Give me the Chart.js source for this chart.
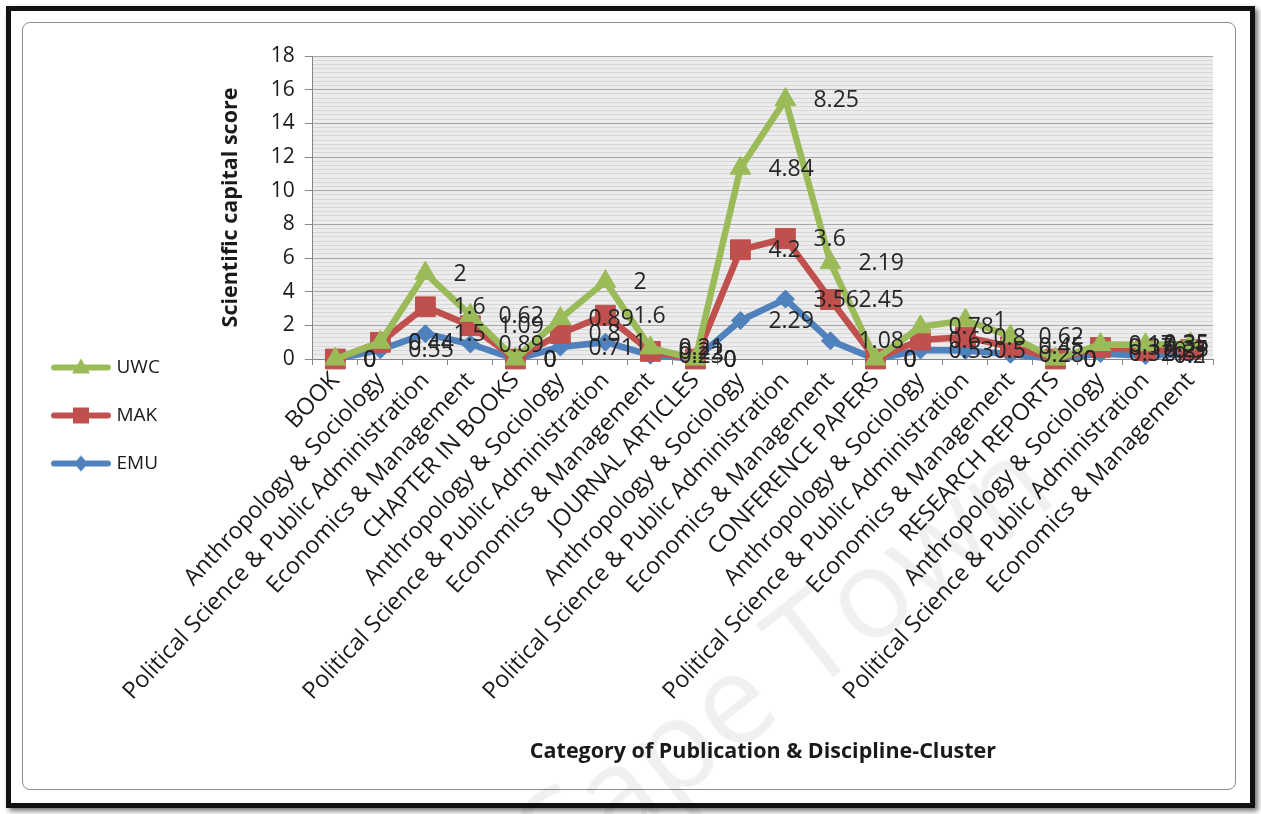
<!DOCTYPE html>
<html>
<head>
<meta charset="utf-8">
<title>Scientific capital score</title>
<script src="https://cdn.jsdelivr.net/npm/chart.js@4.4.1/dist/chart.umd.min.js"></script>
<style>
  html, body { margin: 0; padding: 0; background: #fff; }
  body { width: 1261px; height: 814px; position: relative; overflow: hidden; font-family: 'Open Sans', sans-serif; }
  .frame { position: absolute; left: 6px; top: 6px; width: 1239px; height: 792px; border: 5px solid #111; box-shadow: 3px 3px 5px rgba(0,0,0,0.55); }
  .panel { position: absolute; left: 22px; top: 22px; width: 1212px; height: 766px; border: 1px solid #8c8c8c; border-radius: 8px; }
  .chart-wrapper { position: absolute; left: 23px; top: 23px; width: 1212px; height: 766px; }
  .wm { position: absolute; left: 575px; top: 755px; font-size: 125px; color: rgba(0,0,0,0.06); transform: rotate(-38deg); transform-origin: left bottom; white-space: nowrap; pointer-events: none; }
</style>
</head>
<body>
<div class="frame"></div>
<div class="panel"></div>
<div class="chart-wrapper"><canvas id="chart"></canvas></div>
<div class="wm">Cape Town</div>
<script>
const categories = [
  'BOOK', 'Anthropology & Sociology', 'Political Science & Public Administration', 'Economics & Management',
  'CHAPTER IN BOOKS', 'Anthropology & Sociology', 'Political Science & Public Administration', 'Economics & Management',
  'JOURNAL ARTICLES', 'Anthropology & Sociology', 'Political Science & Public Administration', 'Economics & Management',
  'CONFERENCE PAPERS', 'Anthropology & Sociology', 'Political Science & Public Administration', 'Economics & Management',
  'RESEARCH REPORTS', 'Anthropology & Sociology', 'Political Science & Public Administration', 'Economics & Management'
];
const emuValues = [0, 0.55, 1.5, 0.89, 0, 0.71, 1, 0.23, 0, 2.29, 3.56, 1.08, 0, 0.53, 0.5, 0.28, 0, 0.32, 0.2, 0.31];
const makValues = [0, 0.44, 1.6, 1.09, 0, 0.8, 1.6, 0.22, 0, 4.2, 3.6, 2.45, 0, 0.6, 0.8, 0.45, 0, 0.37, 0.3, 0.25];
const uwcValues = [0, 0, 2, 0.62, 0, 0.89, 2, 0.21, 0, 4.84, 8.25, 2.19, 0, 0.78, 1, 0.62, 0, 0.17, 0.35, 0.35];
const yTicks = [0, 2, 4, 6, 8, 10, 12, 14, 16, 18];

const BLUE = '#4F81BD', RED = '#C0504D', GREEN = '#9BBB59';
const FONT = "'Open Sans', sans-serif";

// little line+marker icons for the legend, like Excel draws them
function legendIcon(color, shape) {
  const c = document.createElement('canvas');
  c.width = 62; c.height = 26;
  const g = c.getContext('2d');
  g.strokeStyle = color; g.fillStyle = color; g.lineWidth = 6; g.lineCap = 'round';
  g.beginPath(); g.moveTo(4, 13); g.lineTo(58, 13); g.stroke();
  g.beginPath();
  if (shape === 'triangle') { g.moveTo(31, 4); g.lineTo(40, 19); g.lineTo(22, 19); }
  else if (shape === 'rect') { g.rect(23, 5, 16, 16); }
  else { g.moveTo(31, 5); g.lineTo(38, 13); g.lineTo(31, 21); g.lineTo(24, 13); }
  g.closePath(); g.fill();
  return c;
}
const icons = [legendIcon(BLUE, 'diamond'), legendIcon(RED, 'rect'), legendIcon(GREEN, 'triangle')];

const plotBackground = {
  id: 'plotBackground',
  beforeDraw(chart) {
    const { ctx, chartArea: a } = chart;
    ctx.save();
    ctx.fillStyle = '#ececec';
    ctx.fillRect(a.left, a.top, a.right - a.left, a.bottom - a.top);
    ctx.restore();
  }
};

// draw EMU first, UWC last (on top) while keeping EMU at the bottom of the stack
const seriesOrder = {
  id: 'seriesOrder',
  beforeDatasetsDraw(chart) {
    for (let i = 0; i < chart.data.datasets.length; i++) {
      chart.getDatasetMeta(i).controller.draw();
    }
    return false;
  }
};

const valueLabels = {
  id: 'valueLabels',
  afterDraw(chart) {
    const { ctx, chartArea } = chart;
    ctx.save();
    ctx.font = '23px ' + FONT;
    ctx.fillStyle = '#262626';
    ctx.textAlign = 'left';
    ctx.textBaseline = 'middle';
    chart.data.datasets.forEach((ds, i) => {
      chart.getDatasetMeta(i).data.forEach((pt, j) => {
        const txt = String(ds.data[j]);
        let x = pt.x + 28;
        const w = ctx.measureText(txt).width;
        if (x + w > chartArea.right - 4) x = chartArea.right - 4 - w;
        ctx.fillText(txt, x, pt.y + 1);
      });
    });
    ctx.restore();
  }
};

const ctx = document.getElementById('chart').getContext('2d');
new Chart(ctx, {
  type: 'line',
  data: {
    labels: categories,
    datasets: [
      { label: 'EMU', data: emuValues, borderColor: BLUE, backgroundColor: BLUE, borderWidth: 6.5,
        pointStyle: 'rectRot', pointRadius: 9, pointBorderWidth: 1, tension: 0, fill: false },
      { label: 'MAK', data: makValues, borderColor: RED, backgroundColor: RED, borderWidth: 6.5,
        pointStyle: 'rect', pointRadius: 14, pointBorderWidth: 1, tension: 0, fill: false },
      { label: 'UWC', data: uwcValues, borderColor: GREEN, backgroundColor: GREEN, borderWidth: 6.5,
        pointStyle: 'triangle', pointRadius: 12, pointBorderWidth: 1, tension: 0, fill: false }
    ]
  },
  options: {
    responsive: true,
    maintainAspectRatio: false,
    animation: false,
    layout: { padding: { left: 3, right: 22, top: 33, bottom: 14 } },
    plugins: {
      tooltip: { enabled: false },
      legend: {
        position: 'left',
        reverse: true,
        labels: {
          usePointStyle: true,
          pointStyleWidth: 52,
          padding: 29,
          color: '#1a1a1a',
          font: { family: FONT, size: 19 },
          generateLabels(chart) {
            const items = Chart.defaults.plugins.legend.labels.generateLabels(chart);
            items.forEach(it => { it.pointStyle = icons[it.datasetIndex]; it.lineWidth = 0; });
            return items;
          }
        }
      }
    },
    scales: {
      x: {
        offset: true,
        grid: { display: true, drawOnChartArea: false, offset: true, color: '#868686', tickLength: 6 },
        border: { color: '#868686' },
        ticks: {
          autoSkip: false, maxRotation: 47, minRotation: 47, padding: 2,
          color: '#1a1a1a', font: { family: FONT, size: 23.5 }
        },
        title: {
          display: true, text: 'Category of Publication & Discipline-Cluster',
          color: '#1a1a1a', font: { family: FONT, size: 21.5, weight: 'bold' },
          padding: { top: 4, bottom: 10 }
        },
        afterFit(scale) { scale.height = 416; }
      },
      y: {
        stacked: true,
        min: 0,
        max: 18,
        afterBuildTicks(scale) {
          // minor stripes every 0.25, labelled ticks only at the listed values
          const t = [];
          for (let k = 0; k <= 72; k++) t.push({ value: k * 0.25 });
          scale.ticks = t;
        },
        grid: {
          color: c => (yTicks.includes(c.tick.value) ? '#a6a6a6' : '#d7d7d7'),
          tickColor: c => (yTicks.includes(c.tick.value) ? '#868686' : 'rgba(0,0,0,0)'),
          tickLength: 8
        },
        border: { color: '#868686' },
        ticks: {
          autoSkip: false,
          padding: 10,
          color: '#1a1a1a',
          font: { family: FONT, size: 21 },
          callback: v => (yTicks.includes(v) ? String(v) : '')
        },
        title: {
          display: true, text: 'Scientific capital score',
          color: '#1a1a1a', font: { family: FONT, size: 21.5, weight: 'bold' },
          padding: { top: 48, bottom: 0 }
        },
        afterFit(scale) { scale.width = 143; }
      }
    }
  },
  plugins: [plotBackground, seriesOrder, valueLabels]
});
</script>
</body>
</html>
